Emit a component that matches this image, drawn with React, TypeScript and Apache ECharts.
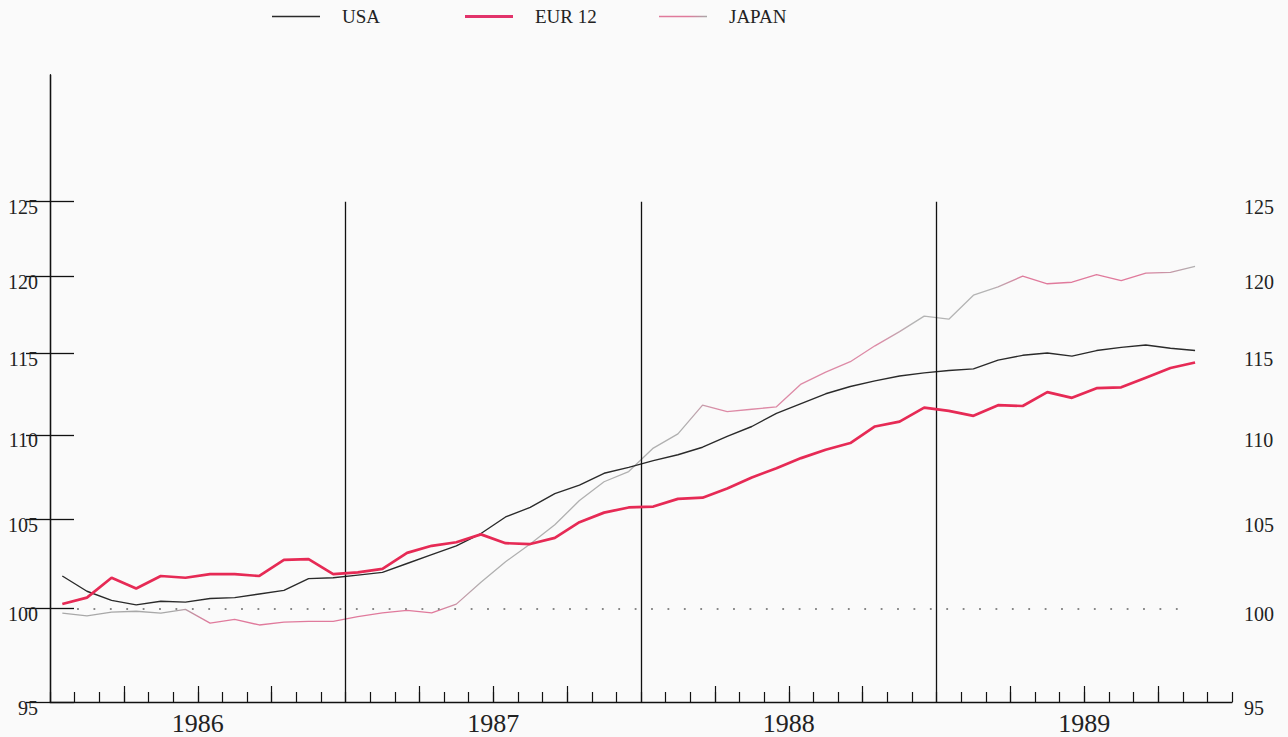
import React, { useEffect, useRef } from "react";
import * as echarts from "echarts";

// Monthly index values, Jan 1986 .. Nov 1989 (log-scaled y axis)
const usa = [
  101.8, 100.95, 100.45, 100.2, 100.4, 100.35, 100.55, 100.6, 100.8, 101.0, 101.65, 101.7,
  101.85, 102.0, 102.5, 103.0, 103.5, 104.2, 105.15, 105.7, 106.5, 107.0, 107.7, 108.05,
  108.45, 108.8, 109.25, 109.9, 110.5, 111.3, 111.9, 112.5, 112.95, 113.3, 113.6, 113.8,
  113.95, 114.05, 114.6, 114.9, 115.05, 114.85, 115.2, 115.4, 115.55, 115.35, 115.2,
];
const eur12 = [
  100.25, 100.6, 101.7, 101.1, 101.8, 101.7, 101.9, 101.9, 101.8, 102.7, 102.75, 101.9,
  102.0, 102.2, 103.1, 103.5, 103.7, 104.15, 103.65, 103.6, 103.95, 104.85, 105.4, 105.7,
  105.75, 106.2, 106.27, 106.8, 107.45, 108.0, 108.6, 109.1, 109.5, 110.5, 110.8, 111.65,
  111.45, 111.15, 111.8, 111.75, 112.6, 112.25, 112.85, 112.9, 113.5, 114.1, 114.45,
];
const japan = [
  99.75, 99.6, 99.8, 99.85, 99.75, 99.95, 99.2, 99.4, 99.1, 99.25, 99.3, 99.3,
  99.55, 99.76, 99.9, 99.76, 100.24, 101.45, 102.6, 103.6, 104.7, 106.1, 107.2, 107.8,
  109.2, 110.05, 111.8, 111.4, 111.55, 111.7, 113.1, 113.85, 114.5, 115.5, 116.4, 117.4,
  117.2, 118.75, 119.3, 120.0, 119.5, 119.6, 120.1, 119.7, 120.2, 120.25, 120.65,
];
const seriesNames = ["USA", "EUR 12", "JAPAN"];
const years = ["1986", "1987", "1988", "1989"];
const yTicks = [95, 100, 105, 110, 115, 120, 125];
const yMin = 95;
const yMax = 134;
const yearLineTop = 125;
const baseLevel = 100;
const monthsTotal = 48;

const L = (v: number) => Math.log(v);
const toPts = (arr: number[]) => arr.map((v, i) => [i + 0.5, L(v)]);

export default function App() {
  const ref = useRef<HTMLDivElement>(null);
  useEffect(() => {
    if (!ref.current) return;
    const chart = echarts.init(ref.current, undefined, { renderer: "svg" });
    const font = "'Liberation Serif', 'DejaVu Serif', serif";
    const yearCenters = years.map((_, i) => i * 12 + 6);
    const quarterTicks: number[] = [];
    for (let m = 3; m < monthsTotal; m += 3) if (m % 12 !== 0) quarterTicks.push(m);
    const yearBounds = [12, 24, 36];
    const japanStops = [
      { offset: 0, color: "#a8a8a8" },
      { offset: 0.1, color: "#a8a8a8" },
      { offset: 0.13, color: "#e07a9c" },
      { offset: 0.33, color: "#e07a9c" },
      { offset: 0.37, color: "#b0b0b0" },
      { offset: 0.55, color: "#b0b0b0" },
      { offset: 0.58, color: "#dd8aa6" },
      { offset: 0.72, color: "#dd8aa6" },
      { offset: 0.75, color: "#b4b4b4" },
      { offset: 0.82, color: "#b4b4b4" },
      { offset: 0.85, color: "#e07a9c" },
      { offset: 0.95, color: "#e07a9c" },
      { offset: 1, color: "#b0b0b0" },
    ];
    const japanColor = new echarts.graphic.LinearGradient(0, 0, 1, 0, japanStops);
    const japanLegendColor = new echarts.graphic.LinearGradient(0, 0, 1, 0, [
      { offset: 0, color: "#e07a9c" },
      { offset: 0.6, color: "#e07a9c" },
      { offset: 1, color: "#a8a8a8" },
    ]);
    const legendIcons = [
      { icon: "path://M0,0H48V1.6H0Z", color: "#2a2a2a" as any },
      { icon: "path://M0,0H48V3H0Z", color: "#e2336b" as any },
      { icon: "path://M0,0H48V1.4H0Z", color: japanLegendColor as any },
    ];
    const legendLefts = [267, 460, 654];
    const yAxisCommon = (pos: "left" | "right") => ({
      type: "value",
      position: pos,
      min: L(yMin),
      max: L(yMax),
      axisLine: { show: true, lineStyle: { color: "#111", width: 1.3 } },
      axisTick: {
        show: true,
        inside: true,
        length: 24,
        customValues: yTicks.map(L),
        lineStyle: { color: "#111", width: 1.3 },
      },
      axisLabel: {
        show: true,
        customValues: yTicks.map(L),
        formatter: (v: number) => String(Math.round(Math.exp(v))),
        fontFamily: font,
        fontSize: 20,
        color: "#222",
        margin: 12,
        verticalAlign: "top",
        lineHeight: 11,
      },
      splitLine: { show: false },
    });
    chart.setOption({
      animation: false,
      backgroundColor: "#fafafa",
      grid: { left: 50, right: 56, top: 75, bottom: 35, containLabel: false },
      legend: seriesNames.map((name, i) => ({
        show: true,
        top: 2,
        left: legendLefts[i],
        itemWidth: 48,
        itemHeight: 20,
        data: [{ name, icon: legendIcons[i].icon, itemStyle: { color: legendIcons[i].color } }],
        textStyle: {
          fontFamily: font,
          fontSize: 19,
          color: "#222",
          padding: [6, 0, 0, 17],
        },
      })),
      xAxis: [
        {
          type: "value",
          min: 0,
          max: monthsTotal,
          interval: 1,
          axisLine: { show: true, onZero: false, lineStyle: { color: "#111", width: 1.3 } },
          axisTick: { show: true, inside: true, length: 10, lineStyle: { color: "#111", width: 1.2 } },
          axisLabel: {
            show: true,
            customValues: yearCenters,
            formatter: (v: number) => years[Math.round((v - 6) / 12)] ?? "",
            fontFamily: font,
            fontSize: 26,
            color: "#222",
            margin: 8,
          },
          splitLine: { show: false },
        },
        {
          type: "value",
          min: 0,
          max: monthsTotal,
          position: "bottom",
          axisLine: { show: false, onZero: false },
          axisTick: {
            show: true,
            inside: true,
            length: 16,
            customValues: quarterTicks,
            lineStyle: { color: "#111", width: 1.2 },
          },
          axisLabel: { show: false },
          splitLine: { show: false },
        },
      ],
      yAxis: [yAxisCommon("left"), yAxisCommon("right")],
      series: [
        {
          name: seriesNames[0],
          type: "line",
          symbol: "none",
          data: toPts(usa),
          lineStyle: { color: "#2a2a2a", width: 1.4 },
          itemStyle: { color: "#2a2a2a" },
          z: 4,
          markLine: {
            silent: true,
            symbol: ["none", "none"],
            label: { show: false },
            animation: false,
            data: [
              ...yearBounds.map((m) => [
                { coord: [m, L(yearLineTop)], lineStyle: { color: "#111", width: 1.3, type: "solid" } },
                { coord: [m, L(yMin)] },
              ]),
              [
                { coord: [1.1, L(baseLevel)], lineStyle: { color: "#888", width: 2, type: [1.8, 14.6] } },
                { coord: [46.3, L(baseLevel)] },
              ],
            ],
          },
        },
        {
          name: seriesNames[1],
          type: "line",
          symbol: "none",
          data: toPts(eur12),
          lineStyle: { color: "#e62a55", width: 2.7 },
          itemStyle: { color: "#e62a55" },
          z: 5,
        },
        {
          name: seriesNames[2],
          type: "line",
          symbol: "none",
          data: toPts(japan),
          lineStyle: { color: japanColor, width: 1.3 },
          itemStyle: { color: "#d88aa6" },
          z: 3,
        },
      ],
    });
    return () => chart.dispose();
  }, []);
  return (
    <div
      ref={ref}
      style={{ position: "absolute", left: 0, top: 0, width: 1288, height: 737 }}
    />
  );
}
